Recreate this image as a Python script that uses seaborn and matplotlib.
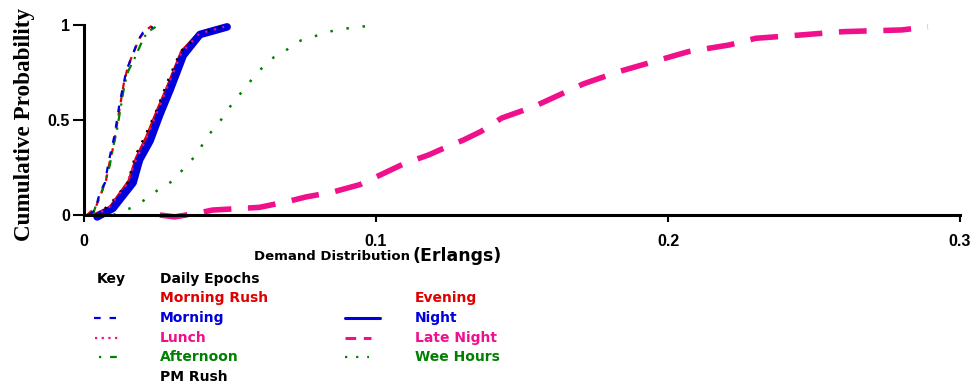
import matplotlib
matplotlib.use("Agg")
import matplotlib.pyplot as plt
from matplotlib.lines import Line2D
import pandas as pd
import seaborn as sns

# demand (Erlangs) vs cumulative probability
morning_rush_x = [0.0010, 0.0040, 0.0058, 0.0075, 0.0088, 0.0102, 0.0110, 0.0122, 0.0136, 0.0150, 0.0168, 0.0190, 0.0210, 0.0232]
morning_rush_y = [0.0, 0.04, 0.11, 0.18, 0.28, 0.37, 0.45, 0.56, 0.69, 0.78, 0.85, 0.93, 0.97, 0.995]
morning_x = [0.0017, 0.0038, 0.0055, 0.0072, 0.0083, 0.0099, 0.0106, 0.0120, 0.0134, 0.0147, 0.0164, 0.0185, 0.0202, 0.0236]
morning_y = [0.0, 0.026, 0.12, 0.17, 0.27, 0.38, 0.43, 0.57, 0.68, 0.77, 0.83, 0.92, 0.96, 0.99]
afternoon_x = [0.0030, 0.0045, 0.0060, 0.0075, 0.0088, 0.0100, 0.0112, 0.0125, 0.0138, 0.0152, 0.0172, 0.0195, 0.0215, 0.0245]
afternoon_y = [0.0, 0.07, 0.12, 0.19, 0.26, 0.36, 0.44, 0.56, 0.68, 0.76, 0.82, 0.90, 0.96, 0.99]
lunch_x = [0.0030, 0.0080, 0.0145, 0.0178, 0.0212, 0.0250, 0.0290, 0.0332, 0.0395, 0.0480]
lunch_y = [0.0, 0.03, 0.16, 0.29, 0.40, 0.54, 0.69, 0.85, 0.955, 0.99]
pm_rush_x = [0.0040, 0.0085, 0.0150, 0.0175, 0.0210, 0.0248, 0.0285, 0.0330, 0.0400, 0.0470]
pm_rush_y = [0.0, 0.05, 0.17, 0.31, 0.42, 0.55, 0.70, 0.86, 0.96, 0.99]
evening_x = [0.0035, 0.0090, 0.0155, 0.0180, 0.0215, 0.0252, 0.0288, 0.0335, 0.0392, 0.0485]
evening_y = [0.0, 0.04, 0.18, 0.30, 0.41, 0.55, 0.68, 0.86, 0.955, 0.995]
night_x = [0.0045, 0.0099, 0.0168, 0.0190, 0.0226, 0.0260, 0.0295, 0.0340, 0.0397, 0.0490]
night_y = [-0.01, 0.035, 0.17, 0.29, 0.39, 0.53, 0.66, 0.84, 0.95, 0.99]
late_night_x = [0.026, 0.031, 0.039, 0.044, 0.060, 0.0695, 0.076, 0.085, 0.0945, 0.1096, 0.118, 0.123,
                0.130, 0.136, 0.143, 0.154, 0.1625, 0.171, 0.183, 0.195, 0.207, 0.221, 0.230, 0.245,
                0.260, 0.280, 0.289]
late_night_y = [0.0, -0.01, 0.01, 0.026, 0.04, 0.07, 0.095, 0.12, 0.16, 0.27, 0.316, 0.35,
                0.395, 0.44, 0.51, 0.57, 0.63, 0.69, 0.754, 0.807, 0.86, 0.895, 0.93, 0.947,
                0.965, 0.974, 0.99]
wee_hours_x = [0.010, 0.0134, 0.018, 0.0226, 0.026, 0.0305, 0.035, 0.0387, 0.042, 0.046, 0.050,
               0.0557, 0.060, 0.065, 0.068, 0.0717, 0.0745, 0.0853, 0.089, 0.0945, 0.097]
wee_hours_y = [0.0, 0.02, 0.05, 0.10, 0.14, 0.18, 0.26, 0.32, 0.41, 0.48, 0.57,
               0.68, 0.76, 0.83, 0.85, 0.90, 0.92, 0.97, 0.98, 0.99, 0.995]

x_ticks = [0, 0.1, 0.2, 0.3]
x_tick_labels = ["0", "0.1", "0.2", "0.3"]
y_ticks = [0, 0.5, 1]
y_tick_labels = ["0", "0.5", "1"]

RED = "#e00000"
BLUE = "#0000dd"
PINK = "#f0108c"
GREEN = "#008000"
BLACK = "#000000"

sns.set_style("white")
plt.rcParams["font.family"] = ["DejaVu Sans"]
plt.rcParams["text.color"] = "black"

fig = plt.figure(figsize=(9.76, 3.86), dpi=100)
ax = fig.add_axes([84 / 976, 1 - 215 / 386, 876 / 976, 190 / 386])

# name, x, y, colour, width, dashes  (drawing order: back to front)
series = [
    ("Evening", evening_x, evening_y, RED, 2.6, None),
    ("Night", night_x, night_y, BLUE, 5.5, None),
    ("PM Rush", pm_rush_x, pm_rush_y, BLACK, 1.6, (1, 4)),
    ("Lunch", lunch_x, lunch_y, PINK, 1.6, (1, 3)),
    ("Morning Rush", morning_rush_x, morning_rush_y, RED, 1.6, (3, 3)),
    ("Afternoon", afternoon_x, afternoon_y, GREEN, 1.6, (4, 3, 1, 3)),
    ("Morning", morning_x, morning_y, BLUE, 1.6, (3, 4)),
    ("Late Night", late_night_x, late_night_y, PINK, 4.0, (5, 3)),
    ("Wee Hours", wee_hours_x, wee_hours_y, GREEN, 1.8, (1, 5.5)),
]

for name, xs, ys, col, lw, dash in series:
    df = pd.DataFrame({"x": xs, "y": ys})
    sns.lineplot(data=df, x="x", y="y", ax=ax, color=col, lw=lw, sort=False,
                 estimator=None, clip_on=False)
    if dash is not None:
        ax.lines[-1].set_dashes(dash)

ax.set_xlim(0, 0.3)
ax.set_ylim(0, 1)
ax.set_xticks(x_ticks)
ax.set_xticklabels(x_tick_labels)
ax.set_yticks(y_ticks)
ax.set_yticklabels(y_tick_labels)
ax.set_xlabel("")
ax.set_ylabel("")
for lab in ax.get_xticklabels() + ax.get_yticklabels():
    lab.set_family("Liberation Sans")
    lab.set_fontweight("bold")
    lab.set_fontsize(11.5)
ax.tick_params(axis="both", direction="out", width=1.5, color="black", labelcolor="black",
               bottom=True, left=True)
ax.tick_params(axis="x", length=5, pad=9)
ax.tick_params(axis="y", length=8, pad=2)
for side in ["top", "right"]:
    ax.spines[side].set_visible(False)
for side in ["left", "bottom"]:
    ax.spines[side].set_linewidth(2.2)
    ax.spines[side].set_color("black")

# axis titles
fig.text(25 / 976, 1 - 124 / 386, "Cumulative Probability", rotation=90, ha="center", va="center",
         family="Liberation Serif", fontweight="bold", fontsize=16.7, color="black")
fig.text(410 / 976, 1 - 256 / 386, "Demand Distribution", ha="right", va="center",
         fontweight="bold", fontsize=9.5, color="black")
fig.text(412 / 976, 1 - 256 / 386, "(Erlangs)", ha="left", va="center",
         fontweight="bold", fontsize=12.5, color="black")

# hand-made key below the chart
fig.text(97 / 976, 1 - 279 / 386, "Key", va="center", fontweight="bold", fontsize=10, color="black")
fig.text(160 / 976, 1 - 279 / 386, "Daily Epochs", va="center", fontweight="bold", fontsize=10,
         color="black")

key_rows = [
    # label, colour, column, row, sample style (None = no sample)
    ("Morning Rush", RED, 0, 0, None),
    ("Morning", BLUE, 0, 1, (BLUE, 1.6, (3, 4), 94, 116)),
    ("Lunch", PINK, 0, 2, (PINK, 1.6, (1, 2), 95, 121)),
    ("Afternoon", GREEN, 0, 3, (GREEN, 1.6, (1, 4, 3, 4), 99, 122)),
    ("PM Rush", BLACK, 0, 4, None),
    ("Evening", RED, 1, 0, None),
    ("Night", BLUE, 1, 1, (BLUE, 2.2, None, 345, 380)),
    ("Late Night", PINK, 1, 2, (PINK, 2.2, (3.5, 2.5), 345, 371)),
    ("Wee Hours", GREEN, 1, 3, (GREEN, 1.6, (1, 4), 345, 369)),
]
row_y = [298, 318, 338, 357, 377]
col_x = [160, 415]
for label, col, c, r, sample in key_rows:
    yy = 1 - row_y[r] / 386
    fig.text(col_x[c] / 976, yy, label, color=col, va="center", fontweight="bold", fontsize=10)
    if sample is not None:
        scol, slw, sdash, x0, x1 = sample
        ln = Line2D([x0 / 976, x1 / 976], [yy, yy], color=scol, lw=slw, transform=fig.transFigure)
        if sdash is not None:
            ln.set_dashes(sdash)
        fig.add_artist(ln)

fig.savefig("out.png", dpi=100)
